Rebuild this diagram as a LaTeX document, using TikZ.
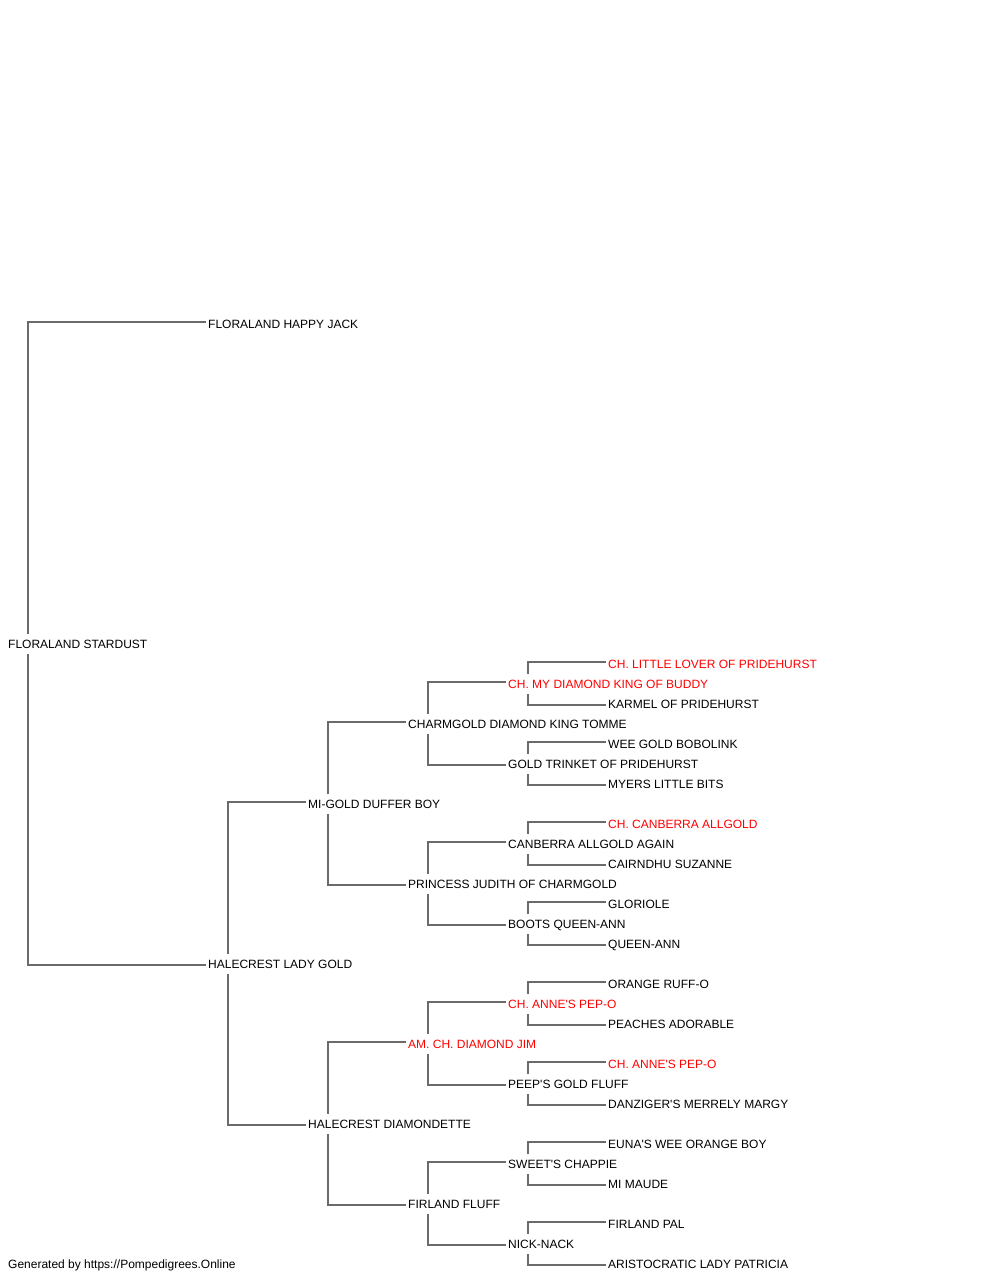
\documentclass[tikz,border=0pt]{standalone}
\usepackage{fontspec}
\newfontfamily\pedfont{Liberation Sans}
\tikzset{
  dog/.style={anchor=west,inner xsep=2.5pt,inner ysep=0pt,minimum height=20pt,text height=8.6pt,text depth=0pt},
  champ/.style={dog,text=red},
  link/.style={draw=black!58,line width=1.3pt}
}
\begin{document}
\begin{tikzpicture}[x=1pt,y=-1pt,font=\pedfont\fontsize{12}{14}\selectfont]
    \useasboundingbox (0,0) rectangle (1000,1280);
    % generation 1 and 2
    \node[dog] (root) at (5.5,644) {FLORALAND STARDUST};
    \node[dog] (s) at (205.5,324) {FLORALAND HAPPY JACK};
    \node[dog] (d) at (205.5,964) {HALECREST LADY GOLD};
    % generation 3 and 4
    \node[dog] (ds) at (305.5,804) {MI-GOLD DUFFER BOY};
    \node[dog] (dd) at (305.5,1124) {HALECREST DIAMONDETTE};
    \node[dog] (dss) at (405.5,724) {CHARMGOLD DIAMOND KING TOMME};
    \node[dog] (dsd) at (405.5,884) {PRINCESS JUDITH OF CHARMGOLD};
    \node[champ] (dds) at (405.5,1044) {AM. CH. DIAMOND JIM};
    \node[dog] (ddd) at (405.5,1204) {FIRLAND FLUFF};
    % generation 5
    \node[champ] (dsss) at (505.5,684) {CH. MY DIAMOND KING OF BUDDY};
    \node[dog] (dssd) at (505.5,764) {GOLD TRINKET OF PRIDEHURST};
    \node[dog] (dsds) at (505.5,844) {CANBERRA ALLGOLD AGAIN};
    \node[dog] (dsdd) at (505.5,924) {BOOTS QUEEN-ANN};
    \node[champ] (ddss) at (505.5,1004) {CH. ANNE'S PEP-O};
    \node[dog] (ddsd) at (505.5,1084) {PEEP'S GOLD FLUFF};
    \node[dog] (ddds) at (505.5,1164) {SWEET'S CHAPPIE};
    \node[dog] (dddd) at (505.5,1244) {NICK-NACK};
    % generation 6
    \node[champ] (dssss) at (605.5,664) {CH. LITTLE LOVER OF PRIDEHURST};
    \node[dog] (dsssd) at (605.5,704) {KARMEL OF PRIDEHURST};
    \node[dog] (dssds) at (605.5,744) {WEE GOLD BOBOLINK};
    \node[dog] (dssdd) at (605.5,784) {MYERS LITTLE BITS};
    \node[champ] (dsdss) at (605.5,824) {CH. CANBERRA ALLGOLD};
    \node[dog] (dsdsd) at (605.5,864) {CAIRNDHU SUZANNE};
    \node[dog] (dsdds) at (605.5,904) {GLORIOLE};
    \node[dog] (dsddd) at (605.5,944) {QUEEN-ANN};
    \node[dog] (ddsss) at (605.5,984) {ORANGE RUFF-O};
    \node[dog] (ddssd) at (605.5,1024) {PEACHES ADORABLE};
    \node[champ] (ddsds) at (605.5,1064) {CH. ANNE'S PEP-O};
    \node[dog] (ddsdd) at (605.5,1104) {DANZIGER'S MERRELY MARGY};
    \node[dog] (dddss) at (605.5,1144) {EUNA'S WEE ORANGE BOY};
    \node[dog] (dddsd) at (605.5,1184) {MI MAUDE};
    \node[dog] (dddds) at (605.5,1224) {FIRLAND PAL};
    \node[dog] (ddddd) at (605.5,1264) {ARISTOCRATIC LADY PATRICIA};
    \node[dog] (footer) at (5.5,1264) {Generated by https://Pompedigrees.Online};
    % connectors: sire line sits a little above the name, dam line a little below
    \draw[link] ([yshift=2pt]s.west) -| ([xshift=22.5pt]root.north west) ([xshift=22.5pt]root.south west) |- ([yshift=-1pt]d.west);
    \draw[link] ([yshift=2pt]ds.west) -| ([xshift=22.5pt]d.north west) ([xshift=22.5pt]d.south west) |- ([yshift=-1pt]dd.west);
    \draw[link] ([yshift=2pt]dss.west) -| ([xshift=22.5pt]ds.north west) ([xshift=22.5pt]ds.south west) |- ([yshift=-1pt]dsd.west);
    \draw[link] ([yshift=2pt]dds.west) -| ([xshift=22.5pt]dd.north west) ([xshift=22.5pt]dd.south west) |- ([yshift=-1pt]ddd.west);
    \draw[link] ([yshift=2pt]dsss.west) -| ([xshift=22.5pt]dss.north west) ([xshift=22.5pt]dss.south west) |- ([yshift=-1pt]dssd.west);
    \draw[link] ([yshift=2pt]dsds.west) -| ([xshift=22.5pt]dsd.north west) ([xshift=22.5pt]dsd.south west) |- ([yshift=-1pt]dsdd.west);
    \draw[link] ([yshift=2pt]ddss.west) -| ([xshift=22.5pt]dds.north west) ([xshift=22.5pt]dds.south west) |- ([yshift=-1pt]ddsd.west);
    \draw[link] ([yshift=2pt]ddds.west) -| ([xshift=22.5pt]ddd.north west) ([xshift=22.5pt]ddd.south west) |- ([yshift=-1pt]dddd.west);
    \draw[link] ([yshift=2pt]dssss.west) -| ([xshift=22.5pt]dsss.north west) ([xshift=22.5pt]dsss.south west) |- ([yshift=-1pt]dsssd.west);
    \draw[link] ([yshift=2pt]dssds.west) -| ([xshift=22.5pt]dssd.north west) ([xshift=22.5pt]dssd.south west) |- ([yshift=-1pt]dssdd.west);
    \draw[link] ([yshift=2pt]dsdss.west) -| ([xshift=22.5pt]dsds.north west) ([xshift=22.5pt]dsds.south west) |- ([yshift=-1pt]dsdsd.west);
    \draw[link] ([yshift=2pt]dsdds.west) -| ([xshift=22.5pt]dsdd.north west) ([xshift=22.5pt]dsdd.south west) |- ([yshift=-1pt]dsddd.west);
    \draw[link] ([yshift=2pt]ddsss.west) -| ([xshift=22.5pt]ddss.north west) ([xshift=22.5pt]ddss.south west) |- ([yshift=-1pt]ddssd.west);
    \draw[link] ([yshift=2pt]ddsds.west) -| ([xshift=22.5pt]ddsd.north west) ([xshift=22.5pt]ddsd.south west) |- ([yshift=-1pt]ddsdd.west);
    \draw[link] ([yshift=2pt]dddss.west) -| ([xshift=22.5pt]ddds.north west) ([xshift=22.5pt]ddds.south west) |- ([yshift=-1pt]dddsd.west);
    \draw[link] ([yshift=2pt]dddds.west) -| ([xshift=22.5pt]dddd.north west) ([xshift=22.5pt]dddd.south west) |- ([yshift=-1pt]ddddd.west);
\end{tikzpicture}
\end{document}
